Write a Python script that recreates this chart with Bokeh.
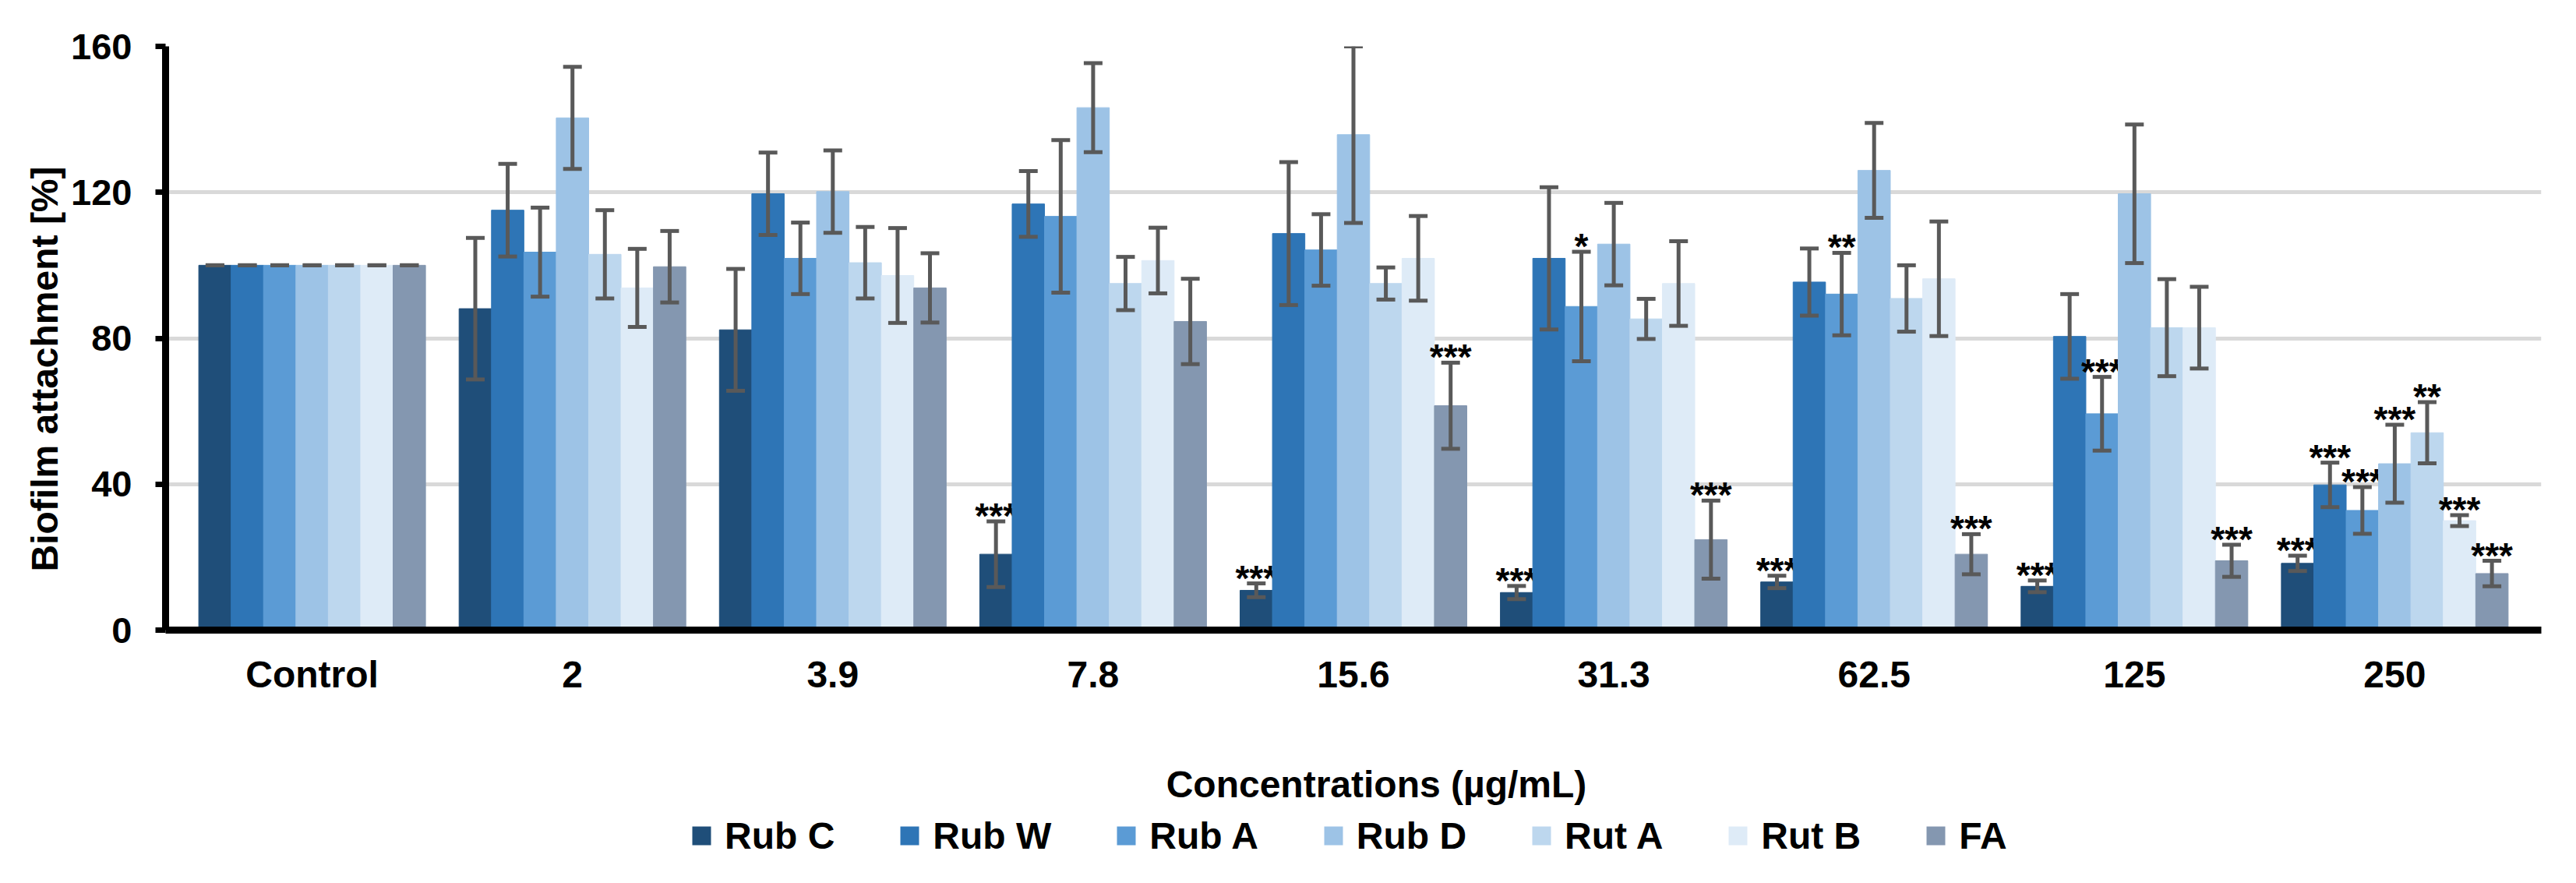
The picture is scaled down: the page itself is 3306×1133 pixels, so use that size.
import math
from bokeh.plotting import figure
from bokeh.layouts import column
from bokeh.models import (ColumnDataSource, Range1d, FixedTicker, Whisker, TeeHead,
                          Legend, LegendItem, Title, Label)
from bokeh.core.properties import value
from bokeh.embed import file_html
from bokeh.resources import INLINE

# ---------------- data ----------------
categories = ["Control", "2", "3.9", "7.8", "15.6", "31.3", "62.5", "125", "250"]
series_names = ["Rub C", "Rub W", "Rub A", "Rub D", "Rut A", "Rut B", "FA"]

rub_c = [100, 88.1, 82.3, 20.8, 10.9, 10.3, 13.2, 12.0, 18.3]
rub_c_sd = [0, 19.4, 16.7, 9.0, 1.9, 1.8, 1.7, 1.6, 2.1]
rub_w = [100, 115.1, 119.6, 116.8, 108.7, 101.9, 95.4, 80.5, 39.8]
rub_w_sd = [0, 12.7, 11.3, 9.0, 19.6, 19.5, 9.2, 11.6, 6.1]
rub_a = [100, 103.6, 101.9, 113.4, 104.2, 88.7, 92.1, 59.3, 32.8]
rub_a_sd = [0, 12.2, 9.8, 20.9, 9.8, 15.0, 11.3, 10.1, 6.4]
rub_d = [100, 140.4, 120.2, 143.2, 135.8, 105.8, 126.0, 119.6, 45.6]
rub_d_sd = [0, 14.0, 11.3, 12.2, 24.2, 11.3, 13.0, 19.0, 10.7]
rut_a = [100, 103.0, 100.7, 95.0, 95.0, 85.3, 90.9, 82.9, 54.1]
rut_a_sd = [0, 12.1, 9.8, 7.3, 4.4, 5.5, 9.1, 13.3, 8.4]
rut_b = [100, 93.8, 97.2, 101.3, 101.9, 95.0, 96.3, 82.9, 30.0]
rut_b_sd = [0, 10.7, 13.0, 9.0, 11.6, 11.6, 15.7, 11.2, 1.5]
fa = [100, 99.6, 93.8, 84.6, 61.5, 24.8, 20.8, 19.0, 15.5]
fa_sd = [0, 9.8, 9.5, 11.7, 11.8, 10.7, 5.5, 4.4, 3.5]

# significance marks
rub_c_sig = ["", "", "", "***", "***", "***", "***", "***", "***"]
rub_w_sig = ["", "", "", "", "", "", "", "", "***"]
rub_a_sig = ["", "", "", "", "", "*", "**", "***", "***"]
rub_d_sig = ["", "", "", "", "", "", "", "", "***"]
rut_a_sig = ["", "", "", "", "", "", "", "", "**"]
rut_b_sig = ["", "", "", "", "", "", "", "", "***"]
fa_sig = ["", "", "", "", "***", "***", "***", "***", "***"]

y_ticks = [0, 40, 80, 120, 160]
x_title = "Concentrations (µg/mL)"
y_title = "Biofilm attachment [%]"

means = [rub_c, rub_w, rub_a, rub_d, rut_a, rut_b, fa]
sds = [rub_c_sd, rub_w_sd, rub_a_sd, rub_d_sd, rut_a_sd, rut_b_sd, fa_sd]
sigs = [rub_c_sig, rub_w_sig, rub_a_sig, rub_d_sig, rut_a_sig, rut_b_sig, fa_sig]

# ---------------- style ----------------
colors = ["#1F4E79", "#2E75B6", "#5B9BD5", "#9DC3E6", "#BDD7EE", "#DEEBF7", "#8497B0"]
FONT = "Liberation Sans"
ERR = "#595959"
n_cat = len(categories)
n_ser = len(series_names)
group_width = 0.871
bar_w = group_width / n_ser
pad = 0.063

W = 3290
H_MAIN = 900
H_LEG = 210
TOP_LEG = 8 + H_MAIN  # page y of the strip's top edge

p = figure(width=W, height=H_MAIN, output_backend="svg", toolbar_location=None,
           x_range=Range1d(-0.5 - pad, n_cat - 0.5 + pad),
           y_range=Range1d(y_ticks[0], y_ticks[-1]),
           min_border_left=212, min_border_right=29,
           min_border_top=59, min_border_bottom=92)
p.outline_line_color = None
p.background_fill_color = "white"
p.border_fill_color = "white"

# strip below the plot: x title and legend
p2 = figure(width=W, height=H_LEG, output_backend="svg", toolbar_location=None,
            x_range=Range1d(0, 1), y_range=Range1d(0, 1),
            x_axis_type=None, y_axis_type=None,
            min_border_left=0, min_border_right=0, min_border_top=0, min_border_bottom=0)
p2.outline_line_color = None
p2.grid.visible = False
p2.background_fill_color = "white"
p2.border_fill_color = "white"

legend_items = []
for j in range(n_ser):
    off = (j - (n_ser - 1) / 2) * bar_w
    xs = [i + off for i in range(n_cat)]
    m = means[j]
    s = sds[j]
    src = ColumnDataSource(dict(
        x=xs, top=m,
        upper=[a + b for a, b in zip(m, s)],
        lower=[a - b for a, b in zip(m, s)],
    ))
    p.vbar(x="x", top="top", width=bar_w, bottom=0, source=src,
           fill_color=colors[j], line_color=colors[j], line_width=1)
    w = Whisker(source=src, base="x", upper="upper", lower="lower",
                dimension="height", line_color=ERR, line_width=5,
                upper_head=TeeHead(size=24, line_color=ERR, line_width=5),
                lower_head=TeeHead(size=24, line_color=ERR, line_width=5),
                level="overlay")
    p.add_layout(w)

    sx, sy, st = [], [], []
    for i in range(n_cat):
        if sigs[j][i]:
            sx.append(xs[i])
            sy.append(m[i] + s[i])
            st.append(sigs[j][i])
    if sx:
        p.text(x="x", y="y", text="t",
               source=ColumnDataSource(dict(x=sx, y=sy, t=st)),
               text_font=value(FONT), text_font_size="46px", text_font_style="bold",
               text_color="black", text_align="center", text_baseline="alphabetic",
               y_offset=-7)

    # legend proxy: same data, drawn in the strip (falls outside its ranges)
    r = p2.scatter(x="x", y="top", source=src, marker="square", size=24,
                   fill_color=colors[j], line_color=None)
    legend_items.append(LegendItem(label=series_names[j], renderers=[r]))

# axes
p.xaxis.ticker = FixedTicker(ticks=list(range(n_cat)))
p.xaxis.major_label_overrides = {i: c for i, c in enumerate(categories)}
p.xaxis.major_tick_out = 0
p.xaxis.major_tick_in = 0
p.xaxis.minor_tick_out = 0
p.xaxis.minor_tick_in = 0
p.xaxis.axis_line_width = 9
p.xaxis.axis_line_color = "black"
p.xaxis.major_label_standoff = 30
p.xaxis.major_label_text_font = FONT
p.xaxis.major_label_text_font_size = "48px"
p.xaxis.major_label_text_font_style = "bold"
p.xaxis.major_label_text_color = "black"

p.yaxis.ticker = FixedTicker(ticks=y_ticks)
p.yaxis.major_tick_out = 13
p.yaxis.major_tick_in = 0
p.yaxis.major_tick_line_width = 7
p.yaxis.major_tick_line_color = "black"
p.yaxis.minor_tick_out = 0
p.yaxis.minor_tick_in = 0
p.yaxis.axis_line_width = 9
p.yaxis.axis_line_color = "black"
p.yaxis.major_label_standoff = 30
p.yaxis.major_label_text_font = FONT
p.yaxis.major_label_text_font_size = "47px"
p.yaxis.major_label_text_font_style = "bold"
p.yaxis.major_label_text_color = "black"

p.xgrid.visible = False
p.ygrid.ticker = FixedTicker(ticks=y_ticks)
p.ygrid.grid_line_color = "#D9D9D9"
p.ygrid.grid_line_width = 5

# y title (left-aligned along the axis, offset up from the frame bottom)
p.add_layout(Title(text=y_title, align="left", offset=75, standoff=10,
                   text_font=FONT, text_font_size="48px", text_font_style="bold",
                   text_color="black"), "left")

# x title and legend (screen units relative to the strip's frame, aligned with the plot frame)
p2.add_layout(Label(x=1554, y=H_LEG - (1014 - TOP_LEG), x_units="screen", y_units="screen",
                    text=x_title, text_align="center", text_baseline="alphabetic",
                    text_font=FONT, text_font_size="48px", text_font_style="bold",
                    text_color="black"))

legend = Legend(items=legend_items, orientation="horizontal",
                location=(658, H_LEG - (1110 - TOP_LEG)),
                glyph_width=60, glyph_height=60, label_standoff=-6, spacing=66,
                padding=0, margin=0, border_line_color=None, background_fill_alpha=0,
                label_text_font=FONT, label_text_font_size="48px",
                label_text_font_style="bold", label_text_color="black")
p2.add_layout(legend)

layout = column(p, p2, spacing=0)
open("out.html", "w").write(file_html(layout, INLINE))
